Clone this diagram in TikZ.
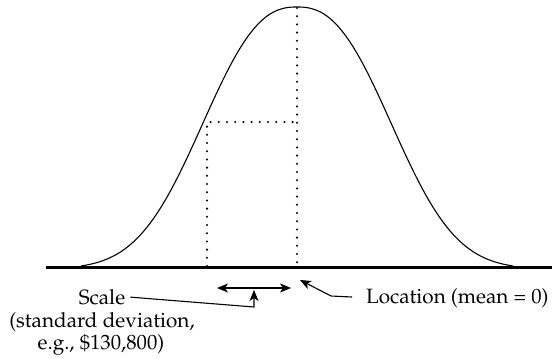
\documentclass[tikz,border=0pt]{standalone}
\usepackage[T1]{fontenc}
\usepackage{mathpazo}
\usetikzlibrary{arrows.meta}

\begin{document}
\begin{tikzpicture}[
    x=1pt, y=-1pt,
    curve/.style={line width=1.1pt},
    axis/.style={line width=2.8pt},
    guide/.style={line width=2.3pt, line cap=round, dash pattern=on 0pt off 8.2pt},
    pointer/.style={line width=1.1pt, -{Stealth[length=11pt,width=9pt,inset=3pt]}},
    lbl/.style={inner sep=0pt, font=\fontsize{20.7}{22}\selectfont}
]
\useasboundingbox (0,0) rectangle (552,359);

% bell curve and axis
\draw[curve] plot[domain=-216:216, samples=120]
    ({297+\x}, {266-259*(exp(-(abs(\x)/117)^2.45)-0.011)/0.989});
\draw[axis] (46,267.5) -- (552,267.5);

% mean and one standard deviation
\coordinate (peak)     at (297,8);
\coordinate (meanfoot) at (297,266);
\coordinate (sdcorner) at (207,122);
\coordinate (sdfoot)   at (207,266);
\coordinate (sdtop)    at (297,122);
\draw[guide] (peak) -- (meanfoot);
\draw[guide] (sdfoot) -- (sdcorner) -- (sdtop);

\coordinate (spanl) at (217,288);
\coordinate (spanr) at (291,288);
\draw[line width=1.2pt, {Stealth[length=11pt,width=9pt,inset=3pt]}-{Stealth[length=11pt,width=9pt,inset=3pt]}] (spanl) -- (spanr);

% labels
\node[lbl, anchor=base]      (scale) at (102,304) {Scale};
\node[lbl, anchor=base]      (sddesc) at (102,327) {(standard deviation,};
\node[lbl, anchor=base]      (sdex) at (101,349) {e.g., \$130,800)};
\node[lbl, anchor=base west] (loc) at (366,303) {Location (mean = 0)};

\coordinate (scalebend) at (254,307);
\coordinate (scaletip)  at (254,290);
\coordinate (locbend)   at (331,296);
\coordinate (loctip)    at (300,280);
\draw[pointer, shorten <=5pt]  (scale.east) -- (scalebend) -- (scaletip);
\draw[pointer, shorten <=14pt] (loc.west) -- (locbend) -- (loctip);
\end{tikzpicture}
\end{document}
